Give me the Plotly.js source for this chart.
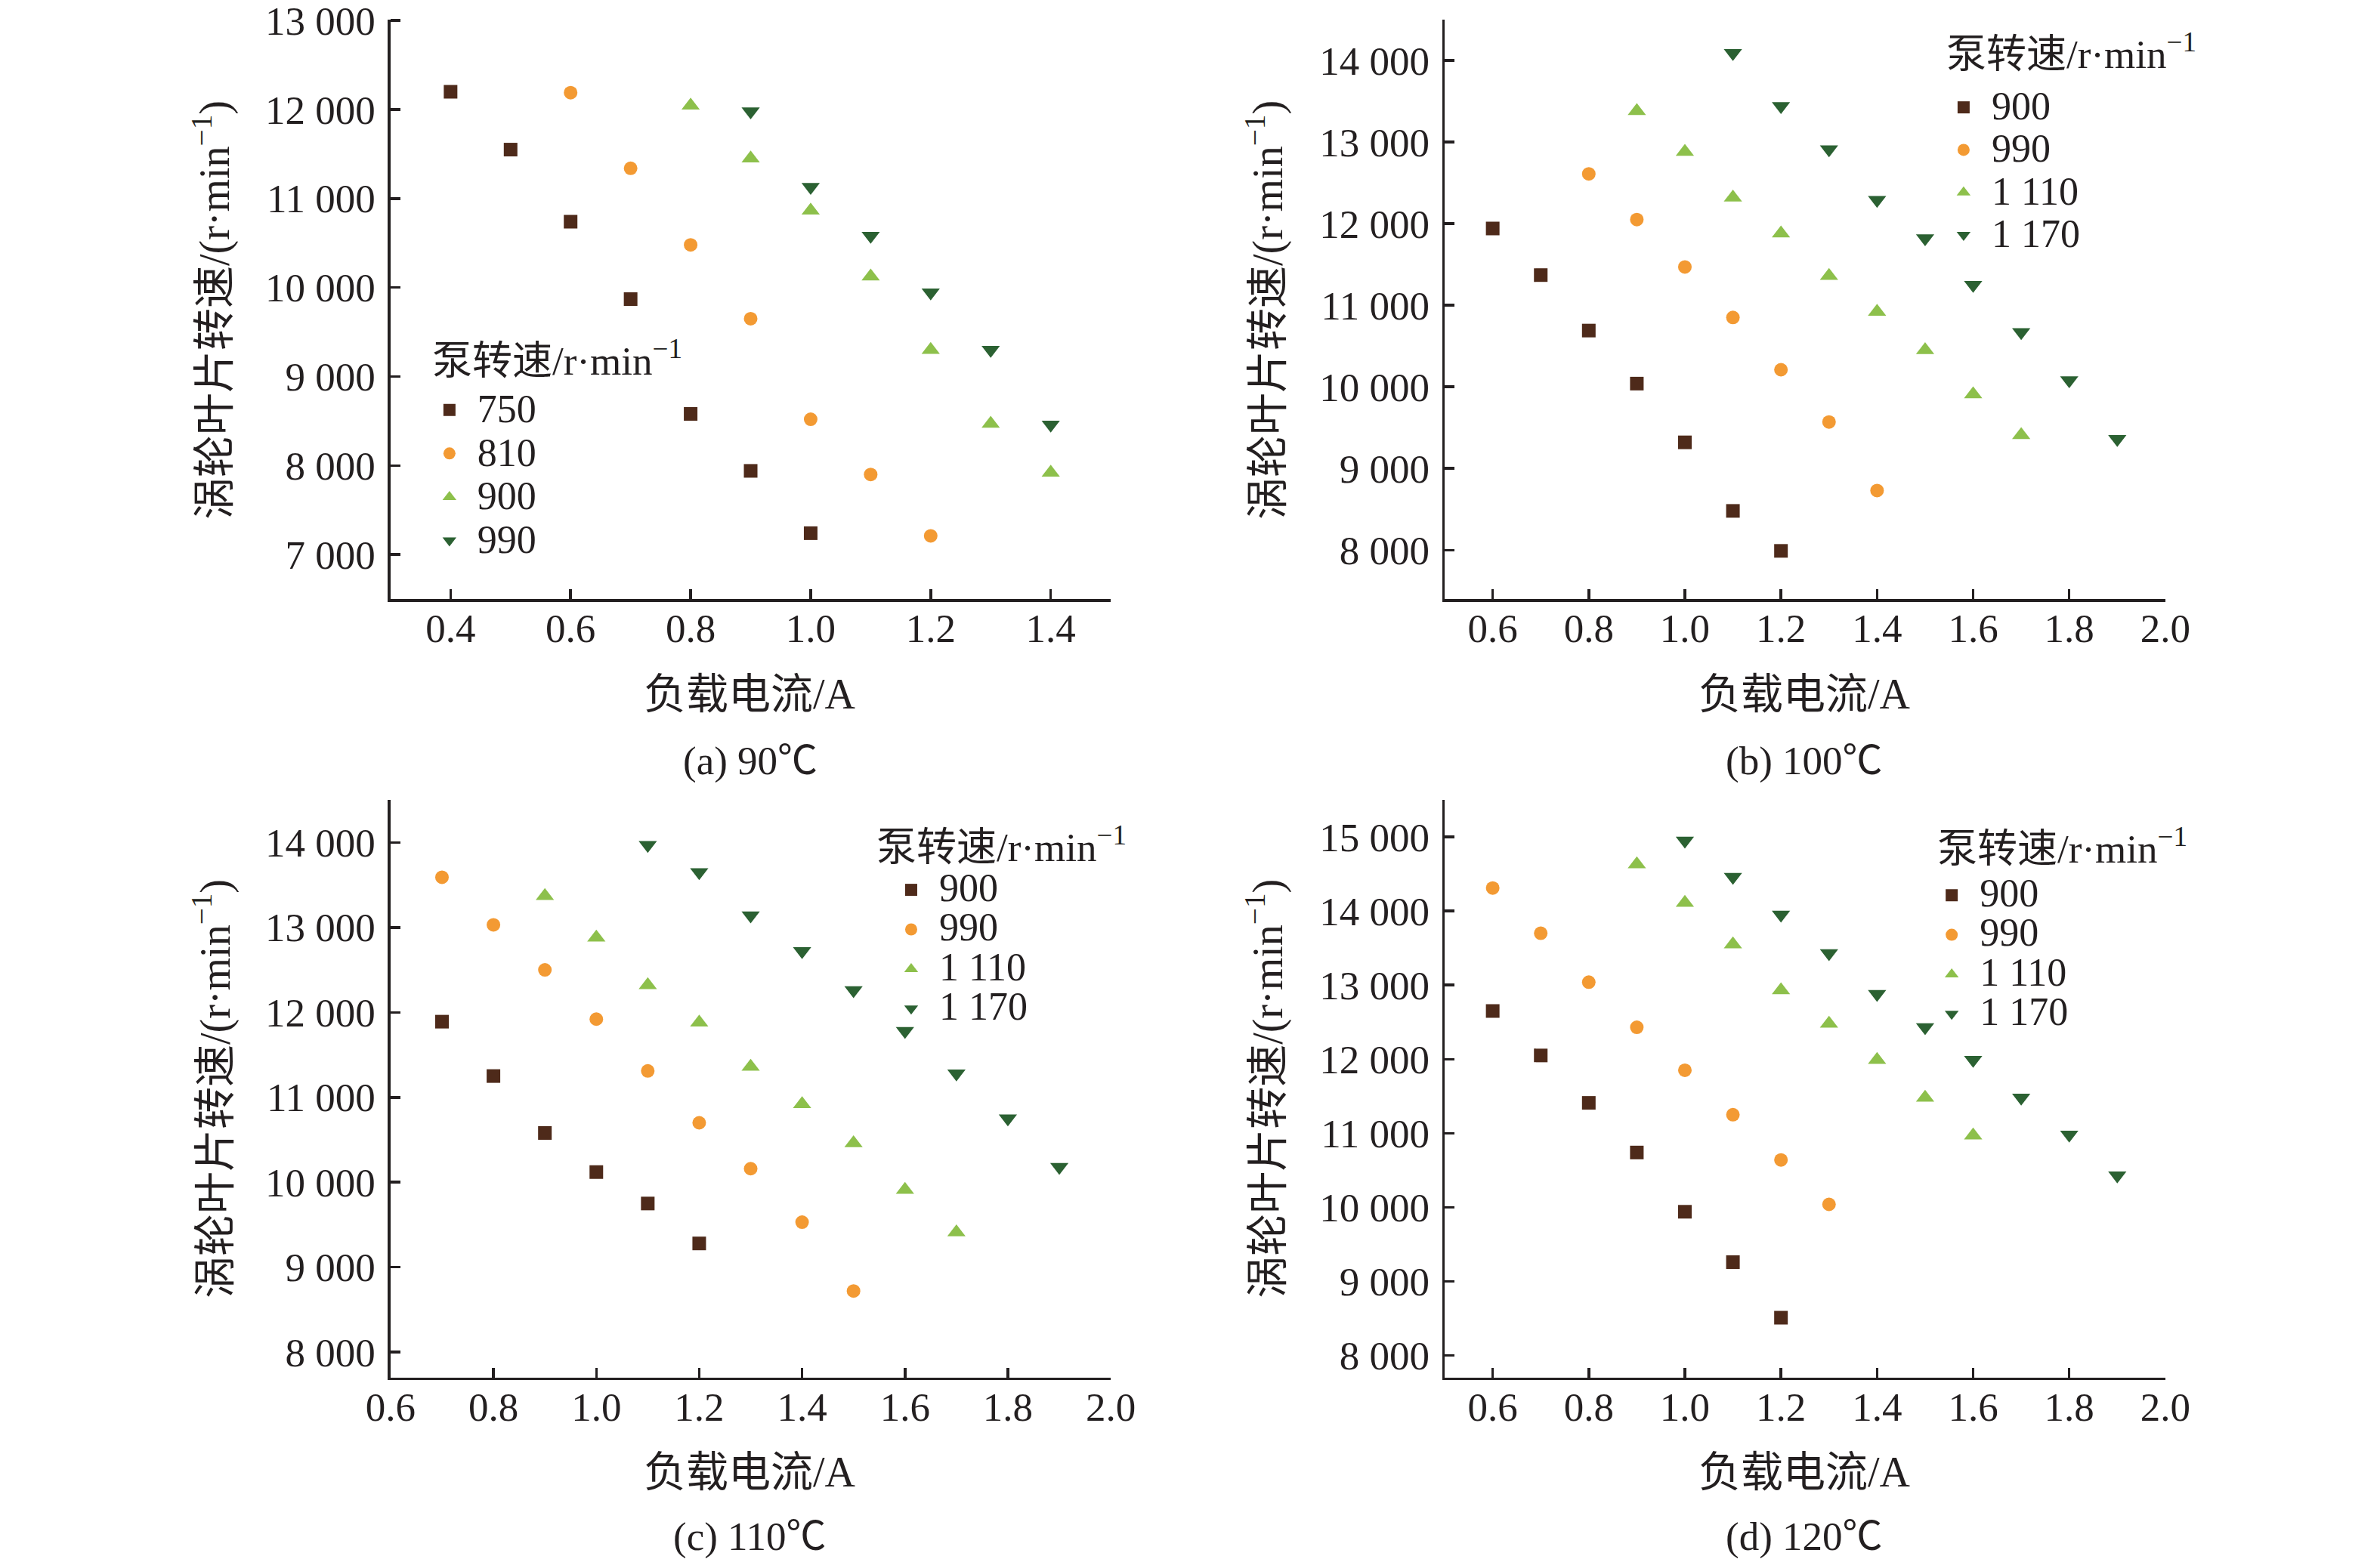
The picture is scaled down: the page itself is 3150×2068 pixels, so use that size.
<!DOCTYPE html>
<html>
<head>
<meta charset="utf-8">
<script src="https://cdn.plot.ly/plotly-3.0.1.min.js"></script>
<style>
  html, body { margin: 0; padding: 0; background: #fff; }
  #chart { width: 3150px; height: 2068px; }
</style>
</head>
<body>
<div id="chart"></div>
<script>
// Turbine blade speed vs load current, four oil temperatures

// (a) 90 C
const a_I750 = [0.4, 0.5, 0.6, 0.7, 0.8, 0.9, 1.0];
const a_N750 = [12200, 11550, 10740, 9870, 8580, 7940, 7240];
const a_I810 = [0.6, 0.7, 0.8, 0.9, 1.0, 1.1, 1.2];
const a_N810 = [12190, 11340, 10480, 9650, 8520, 7900, 7210];
const a_I900 = [0.8, 0.9, 1.0, 1.1, 1.2, 1.3, 1.4];
const a_N900 = [12045, 11450, 10865, 10125, 9300, 8470, 7920];
const a_I990 = [0.9, 1.0, 1.1, 1.2, 1.3, 1.4];
const a_N990 = [11980, 11130, 10580, 9945, 9300, 8460];

// (b) 100 C
const b_I900 = [0.6, 0.7, 0.8, 0.9, 1.0, 1.1, 1.2];
const b_N900 = [11940, 11370, 10690, 10040, 9320, 8480, 7990];
const b_I990 = [0.8, 0.9, 1.0, 1.1, 1.2, 1.3, 1.4];
const b_N990 = [12610, 12050, 11470, 10850, 10210, 9570, 8730];
const b_I1110 = [0.9, 1.0, 1.1, 1.2, 1.3, 1.4, 1.5, 1.6, 1.7];
const b_N1110 = [13380, 12880, 12320, 11880, 11360, 10920, 10450, 9910, 9410];
const b_I1170 = [1.1, 1.2, 1.3, 1.4, 1.5, 1.6, 1.7, 1.8, 1.9];
const b_N1170 = [14090, 13440, 12910, 12290, 11820, 11250, 10670, 10080, 9360];

// (c) 110 C
const c_I900 = [0.7, 0.8, 0.9, 1.0, 1.1, 1.2];
const c_N900 = [11890, 11250, 10580, 10120, 9750, 9280];
const c_I990 = [0.7, 0.8, 0.9, 1.0, 1.1, 1.2, 1.3, 1.4, 1.5];
const c_N990 = [13590, 13030, 12500, 11920, 11310, 10700, 10160, 9530, 8720];
const c_I1110 = [0.9, 1.0, 1.1, 1.2, 1.3, 1.4, 1.5, 1.6, 1.7];
const c_N1110 = [13370, 12880, 12320, 11880, 11360, 10920, 10460, 9910, 9410];
const c_I1170 = [1.1, 1.2, 1.3, 1.4, 1.5, 1.6, 1.7, 1.8, 1.9];
const c_N1170 = [13970, 13650, 13140, 12720, 12260, 11780, 11280, 10750, 10180];

// (d) 120 C
const d_I900 = [0.6, 0.7, 0.8, 0.9, 1.0, 1.1, 1.2];
const d_N900 = [12650, 12050, 11410, 10740, 9940, 9260, 8510];
const d_I990 = [0.6, 0.7, 0.8, 0.9, 1.0, 1.1, 1.2, 1.3];
const d_N990 = [14310, 13700, 13040, 12430, 11850, 11250, 10640, 10040];
const d_I1110 = [0.9, 1.0, 1.1, 1.2, 1.3, 1.4, 1.5, 1.6];
const d_N1110 = [14630, 14110, 13550, 12930, 12480, 11990, 11480, 10970];
const d_I1170 = [1.0, 1.1, 1.2, 1.3, 1.4, 1.5, 1.6, 1.7, 1.8, 1.9];
const d_N1170 = [14950, 14460, 13950, 13430, 12880, 12430, 11990, 11480, 10980, 10430];

const captions = ['(a) 90℃', '(b) 100℃', '(c) 110℃', '(d) 120℃'];
const xTitle = '负载电流/A';
const yTitle = '涡轮叶片转速/(r·min<sup>−1</sup>)';
const legendTitle = '泵转速/r·min<sup>−1</sup>';

const INK = '#231f20';
const FONT = '"Liberation Serif", "Noto Sans CJK SC", serif';

// series style by symbol slot: square, circle, up, down
const styles = [
    {symbol: 'square', color: '#4e2a1a', size: 18},
    {symbol: 'circle', color: '#f39a33', size: 18},
    {symbol: 'triangle-up', color: '#8dc04b', size: 21},
    {symbol: 'triangle-down', color: '#2b6132', size: 21}
];

// legend text drawn large while the legend row height stays tight
const big = s => '<span style="font-size:52px">' + s + '</span>';

function series(x, y, name, slot, axis, legend) {
    const s = styles[slot];
    return {
        x: x, y: y, name: big(name),
        type: 'scatter', mode: 'markers',
        xaxis: 'x' + axis, yaxis: 'y' + axis,
        legend: legend,
        marker: {symbol: s.symbol, color: s.color, size: s.size, line: {width: 0}}
    };
}

const data = [
    series(a_I750, a_N750, '750', 0, '', 'legend'),
    series(a_I810, a_N810, '810', 1, '', 'legend'),
    series(a_I900, a_N900, '900', 2, '', 'legend'),
    series(a_I990, a_N990, '990', 3, '', 'legend'),

    series(b_I900, b_N900, '900', 0, '2', 'legend2'),
    series(b_I990, b_N990, '990', 1, '2', 'legend2'),
    series(b_I1110, b_N1110, '1 110', 2, '2', 'legend2'),
    series(b_I1170, b_N1170, '1 170', 3, '2', 'legend2'),

    series(c_I900, c_N900, '900', 0, '3', 'legend3'),
    series(c_I990, c_N990, '990', 1, '3', 'legend3'),
    series(c_I1110, c_N1110, '1 110', 2, '3', 'legend3'),
    series(c_I1170, c_N1170, '1 170', 3, '3', 'legend3'),

    series(d_I900, d_N900, '900', 0, '4', 'legend4'),
    series(d_I990, d_N990, '990', 1, '4', 'legend4'),
    series(d_I1110, d_N1110, '1 110', 2, '4', 'legend4'),
    series(d_I1170, d_N1170, '1 170', 3, '4', 'legend4')
];

function xAxis(domain, range, anchor) {
    return {
        domain: domain, range: range, anchor: anchor,
        tick0: 0.4, dtick: 0.2, tickformat: '.1f',
        showline: true, linecolor: INK, linewidth: 3.5,
        ticks: 'inside', ticklen: 13, tickwidth: 3.5, tickcolor: INK,
        ticklabelstandoff: -10, ticklabeloverflow: 'allow',
        showgrid: false, zeroline: false,
        tickfont: {size: 53, color: INK}
    };
}

function yAxis(domain, range, anchor) {
    return {
        domain: domain, range: range, anchor: anchor,
        dtick: 1000, tickformat: ',d',
        showline: true, linecolor: INK, linewidth: 3.5,
        ticks: 'inside', ticklen: 13, tickwidth: 3.5, tickcolor: INK,
        ticklabelstandoff: 6, ticklabeloverflow: 'allow',
        showgrid: false, zeroline: false,
        tickfont: {size: 53, color: INK}
    };
}

function legendBox(x, y, rowFont) {
    return {
        x: x, y: y, xanchor: 'left', yanchor: 'top',
        bgcolor: 'rgba(0,0,0,0)', borderwidth: 0,
        itemwidth: 64,
        font: {size: rowFont, color: INK},
        traceorder: 'normal'
    };
}

const colL = [0.1641, 0.4667];
const colR = [0.607, 0.9098];
const rowT = [0.6165, 0.9874];
const rowB = [0.118, 0.4879];

const annotations = [];
const titleX = [0.3152, 0.7581, 0.3152, 0.7581];
const yTitleX = [0.0892, 0.5317, 0.0892, 0.5317];
const xTitleY = [0.5556, 0.5556, 0.0575, 0.0575];
const yTitleY = [0.8017, 0.8017, 0.3032, 0.3032];
const capY = [0.5126, 0.5126, 0.016, 0.016];
// legend headings, left edge and middle of the line
const legTitleX = [0.1810, 0.8171, 0.3676, 0.8133];
const legTitleY = [0.7708, 0.9671, 0.4594, 0.4584];
for (let i = 0; i < 4; i++) {
    annotations.push({text: xTitle, x: titleX[i], y: xTitleY[i], xref: 'paper', yref: 'paper',
        xanchor: 'center', yanchor: 'middle', showarrow: false, font: {size: 56, color: INK}});
    annotations.push({text: captions[i], x: titleX[i], y: capY[i], xref: 'paper', yref: 'paper',
        xanchor: 'center', yanchor: 'middle', showarrow: false, font: {size: 53, color: INK}});
    annotations.push({text: yTitle, x: yTitleX[i], y: yTitleY[i], xref: 'paper', yref: 'paper',
        xanchor: 'center', yanchor: 'middle', textangle: -90, showarrow: false,
        font: {size: 56, color: INK}});
    annotations.push({text: legendTitle, x: legTitleX[i], y: legTitleY[i], xref: 'paper', yref: 'paper',
        xanchor: 'left', yanchor: 'middle', showarrow: false, font: {size: 53, color: INK}});
}

const layout = {
    width: 3150, height: 2068,
    margin: {l: 0, r: 0, t: 0, b: 0},
    paper_bgcolor: 'white', plot_bgcolor: 'white',
    font: {family: FONT, size: 53, color: INK},
    separators: '. ',
    showlegend: true,
    xaxis: xAxis(colL, [0.3, 1.5], 'y'),
    yaxis: yAxis(rowT, [6500, 13010], 'x'),
    xaxis2: xAxis(colR, [0.5, 2.0], 'y2'),
    yaxis2: yAxis(rowT, [7400, 14500], 'x2'),
    xaxis3: xAxis(colL, [0.6, 2.0], 'y3'),
    yaxis3: yAxis(rowB, [7700, 14500], 'x3'),
    xaxis4: xAxis(colR, [0.5, 2.0], 'y4'),
    yaxis4: yAxis(rowB, [7700, 15500], 'x4'),
    legend: legendBox(0.1771, 0.7539, 42),
    legend2: legendBox(0.8133, 0.9473, 41),
    legend3: legendBox(0.3711, 0.4454, 38),
    legend4: legendBox(0.8083, 0.4420, 38),
    annotations: annotations
};

Plotly.newPlot('chart', data, layout, {displayModeBar: false, staticPlot: true});
</script>
</body>
</html>
